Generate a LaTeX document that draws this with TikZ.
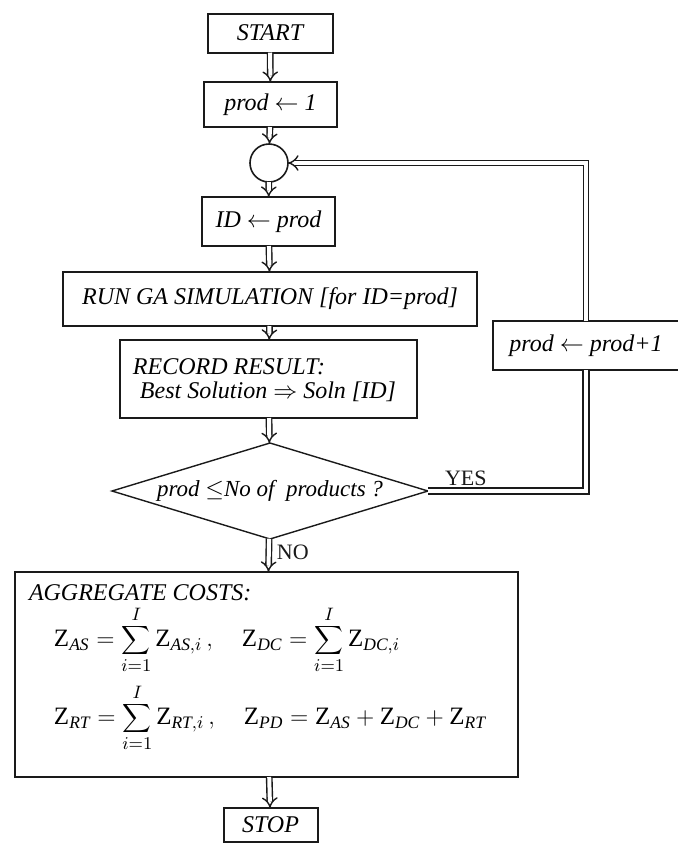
\documentclass[tikz,border=0pt]{standalone}
\usepackage{fontspec}
\setmainfont{Liberation Serif}
\usepackage{tikz}
\usetikzlibrary{positioning,arrows.meta,shapes.geometric}
\tikzset{fxpx/.style={x=0.5pt,y=-0.5pt,every node/.style={inner sep=0pt,outer sep=0pt,anchor=center,align=center}}}
\definecolor{fxline}{HTML}{1A1A1A}
\definecolor{fxgris}{HTML}{808080}
\tikzset{
  caixa/.style={draw=fxline,line width=1pt,fill=white,font=\itshape\fontsize{12}{14}\selectfont},
  texto/.style={anchor=west,font=\itshape\fontsize{12}{14}\selectfont},
  junta/.style={circle,draw=fxline,line width=0.8pt,fill=white,minimum size=19pt},
  decisao/.style={diamond,draw=fxline,line width=0.7pt,fill=white,aspect=3.3,
    minimum width=158pt,minimum height=48pt,font=\itshape\fontsize{11.5}{14}\selectfont},
  pasa/.style={fxline,double=white,double distance=2pt,line width=0.7pt,-{Implies}},
  lazo/.style={fxline,double=white,double distance=2.2pt,line width=0.8pt},
  rotulo/.style={font=\fontsize{11}{13}\selectfont,text=fxline},
  formula/.style={anchor=west,font=\fontsize{12.5}{15}\selectfont},
}

\begin{document}
\begin{tikzpicture}[fxpx]
  \useasboundingbox (0,0) rectangle (678,843);
  % caixas do fluxo
  \node[caixa,minimum width=62.5pt,minimum height=19.5pt] (inicio) at (270,33) {START};
  \node[caixa,minimum width=66.5pt,minimum height=22.5pt] (init) at (270.5,104.5) {prod $\leftarrow$ 1};
  \node[junta] (junc) at (269,163) {};
  \node[caixa,minimum width=66.5pt,minimum height=24.5pt] (idp) at (268.5,221.5) {ID $\leftarrow$ prod};
  \node[caixa,minimum width=207pt,minimum height=27pt] (run) at (270,299) {RUN GA SIMULATION [for ID=prod]};
  \node[caixa,minimum width=148.5pt,minimum height=39pt] (rec) at (268.5,379) {};
  \node[texto] (recA) at (133,367) {RECORD RESULT:};
  \node[texto] (recB) at (140,392) {Best Solution $\Rightarrow$ Soln [ID]};
  \node[caixa,minimum width=93pt,minimum height=24.5pt] (incr) at (586,345.5) {prod $\leftarrow$ prod+1};
  \node[decisao] (dec) at (270,491) {prod $\leq$No of \ products ?};
  \node[caixa,minimum width=251.5pt,minimum height=102.5pt] (agg) at (266.5,674.5) {};
  \node[texto] (aggT) at (29,593) {AGGREGATE COSTS:};
  \node[formula] (f1) at (54,640)
    {$\mathrm{Z}_{\mathit{AS}}=\displaystyle\sum_{i=1}^{I}\mathrm{Z}_{\mathit{AS},i}\,,\quad
      \mathrm{Z}_{\mathit{DC}}=\sum_{i=1}^{I}\mathrm{Z}_{\mathit{DC},i}$};
  \node[formula] (f2) at (54,718)
    {$\mathrm{Z}_{\mathit{RT}}=\displaystyle\sum_{i=1}^{I}\mathrm{Z}_{\mathit{RT},i}\,,\quad
      \mathrm{Z}_{\mathit{PD}}=\mathrm{Z}_{\mathit{AS}}+\mathrm{Z}_{\mathit{DC}}+\mathrm{Z}_{\mathit{RT}}$};
  \node[caixa,minimum width=47pt,minimum height=17pt] (parar) at (270.5,825) {STOP};
  % setas
  \draw[pasa] (inicio) -- (init);
  \draw[pasa] (init) -- (junc);
  \draw[pasa] (junc) -- (idp);
  \draw[pasa] (idp) -- (run);
  \draw[pasa] (run) -- (rec);
  \draw[pasa] (rec) -- (dec);
  \draw[pasa] (dec) -- (agg);
  \draw[pasa] (agg) -- (parar);
  % retorno
  \draw[lazo] (dec.east) -| (incr.south);
  \draw[pasa] (incr.north) |- (junc.east);
  \node[rotulo,anchor=south west] (sim) at (445,486) {YES};
  \node[rotulo,anchor=west] (nao) at (277,552) {NO};
\end{tikzpicture}
\end{document}
